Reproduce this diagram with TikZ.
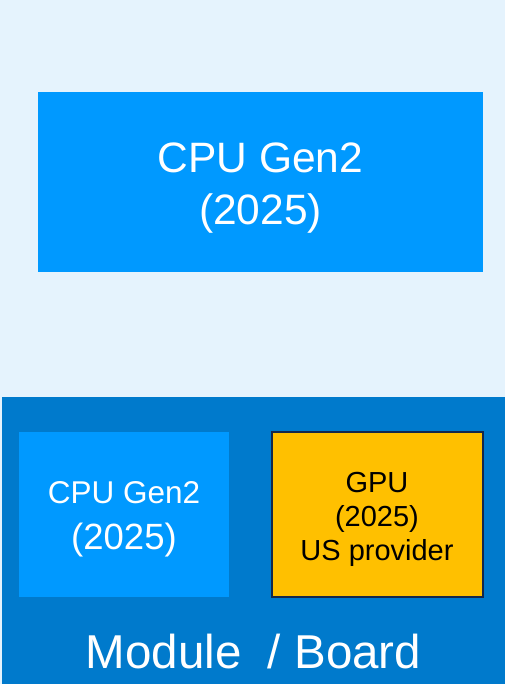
\documentclass[tikz,border=0pt]{standalone}
\usepackage{fontspec}
\setmainfont{Liberation Sans}
\definecolor{bgc}{RGB}{229,243,253}
\definecolor{cpuc}{RGB}{0,153,255}
\definecolor{boardc}{RGB}{0,122,204}
\definecolor{gpuc}{RGB}{255,192,0}
\definecolor{gpuedge}{RGB}{20,40,75}
\begin{document}
\begin{tikzpicture}[x=1pt,y=-1pt,
  blk/.style={rectangle, inner sep=0pt, outer sep=0pt, draw=none},
  wtxt/.style={anchor=base, inner sep=0pt, text=white},
  ktxt/.style={anchor=base, inner sep=0pt, text=black}]
\fill[bgc] (0,0) rectangle (505,684);
\useasboundingbox (0,0) rectangle (505,684);
% top CPU
\node[blk, fill=cpuc, minimum width=445pt, minimum height=180pt] (top) at (260.5,182) {};
\node[wtxt, font=\fontsize{42.5}{50}\selectfont] (topA) at (260.5,173) {CPU Gen2};
\node[wtxt, font=\fontsize{42.5}{50}\selectfont] (topB) at (260.5,225) {(2025)};
% board
\node[blk, fill=boardc, minimum width=503pt, minimum height=287pt] (board) at (253.5,540.5) {};
% inner CPU
\node[blk, fill=cpuc, minimum width=210pt, minimum height=165pt] (cpu) at (124,514.5) {};
\node[wtxt, font=\fontsize{31.5}{36}\selectfont] (cpuA) at (124,503) {CPU Gen2};
\node[wtxt, font=\fontsize{36.5}{42}\selectfont] (cpuB) at (124,549) {(2025)};
% GPU
\node[blk, fill=gpuc, draw=gpuedge, line width=2pt, minimum width=211pt, minimum height=165pt] (gpu) at (377.5,514.5) {};
\node[ktxt, font=\fontsize{29}{34}\selectfont] (gpuA) at (377,492) {GPU};
\node[ktxt, font=\fontsize{29}{34}\selectfont] (gpuB) at (377,526) {(2025)};
\node[ktxt, font=\fontsize{29}{34}\selectfont] (gpuC) at (377,560) {US provider};
% board label
\node[wtxt, font=\fontsize{47.5}{53}\selectfont] (lbl) at (253.5,668) {Module\ \ / Board};
\end{tikzpicture}
\end{document}
